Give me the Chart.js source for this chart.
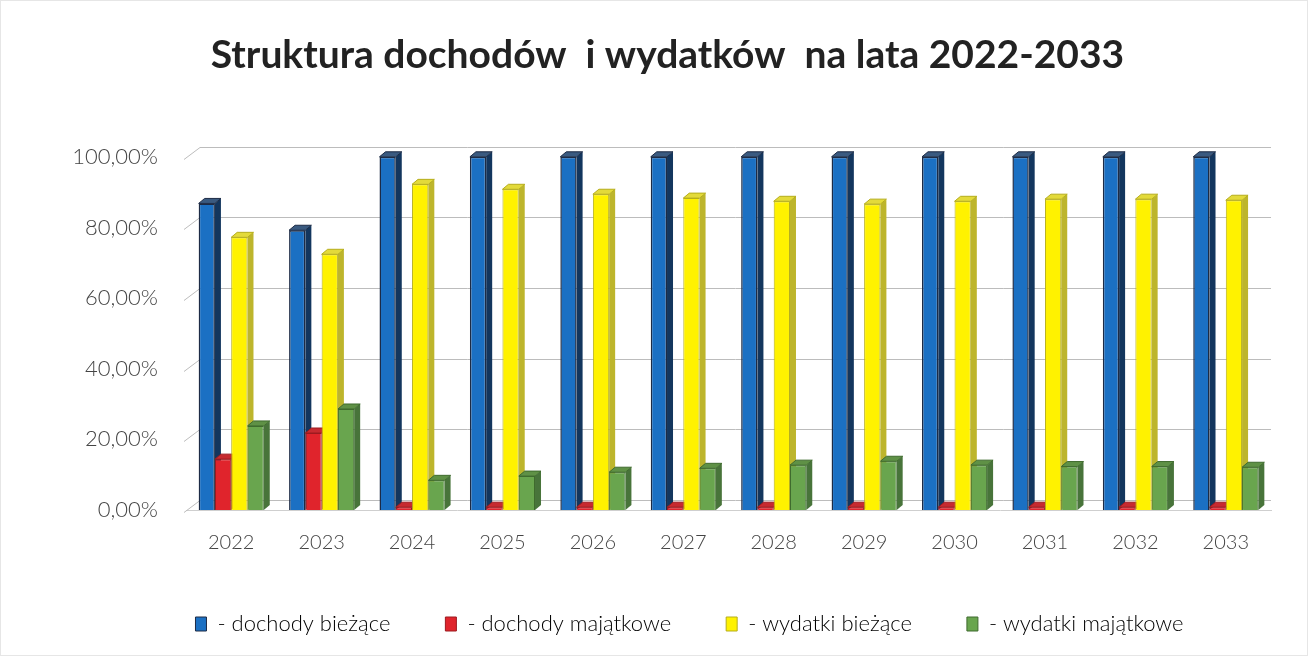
<!DOCTYPE html>
<html lang="pl">
<head>
<meta charset="utf-8">
<title>Struktura dochodów i wydatków</title>
<script src="https://cdn.jsdelivr.net/npm/chart.js@4.4.1/dist/chart.umd.min.js"></script>
<style>
    html, body { margin: 0; padding: 0; background: #fff; }
    #wrap { width: 1308px; height: 656px; box-sizing: border-box; border: 1px solid #e6e6e6; }
</style>
</head>
<body>
<div id="wrap"><canvas id="structChart" width="1306" height="654"></canvas></div>
<script>
// Lata
const years = ['2022', '2023', '2024', '2025', '2026', '2027', '2028', '2029', '2030', '2031', '2032', '2033'];

// Udziały w %
const dochodyBiezace   = [86.8, 79.2, 100, 100, 100, 100, 100, 100, 100, 100, 100, 100];
const dochodyMajatkowe = [14.4, 21.8, 0.8, 0.8, 0.8, 0.8, 0.8, 0.8, 0.8, 0.8, 0.8, 0.8];
const wydatkiBiezace   = [77.2, 72.4, 92.2, 90.8, 89.4, 88.3, 87.4, 86.6, 87.4, 88.0, 88.0, 87.7];
const wydatkiMajatkowe = [23.8, 28.6, 8.4, 9.6, 10.7, 11.8, 12.7, 13.8, 12.7, 12.3, 12.3, 12.1];

const seriesLabels = ['- dochody bieżące', '- dochody majątkowe', '- wydatki bieżące', '- wydatki majątkowe'];

/**
 * Siatka na tylnej ścianie (efekt 3D) - pozycje z osi Y
 */
const backGrid = {
    id: 'backGrid',
    beforeDatasetsDraw(chart) {
        const ctx = chart.ctx;
        const y = chart.scales.y;
        const area = chart.chartArea;
        const depthX = 16, depthY = 12;
        ctx.save();
        ctx.strokeStyle = '#bcbcbc';
        ctx.lineWidth = 1;
        y.ticks.forEach(t => {
            const py = Math.round(y.getPixelForValue(t.value)) + 0.5;
            ctx.beginPath();
            ctx.moveTo(area.left - 2, py + 2);
            ctx.lineTo(area.left - 2 + depthX, py + 2 - depthY);
            ctx.lineTo(area.right, py + 2 - depthY);
            ctx.stroke();
        });
        ctx.restore();
    }
};

/**
 * Pseudo 3D - bok i wierzch słupka rysowane z pozycji elementów Chart.js
 */
const bars3d = {
    id: 'bars3d',
    beforeDatasetsDraw(chart) {
        const ctx = chart.ctx;
        const dx = 6, dy = 5;
        chart.data.datasets.forEach((ds, i) => {
            const meta = chart.getDatasetMeta(i);
            meta.data.forEach(bar => {
                const half = bar.width / 2;
                const left = bar.x - half, right = bar.x + half;
                ctx.save();
                // bok
                ctx.beginPath();
                ctx.moveTo(right, bar.y);
                ctx.lineTo(right + dx, bar.y - dy);
                ctx.lineTo(right + dx, bar.base - dy);
                ctx.lineTo(right, bar.base);
                ctx.closePath();
                ctx.fillStyle = ds.sideColor;
                ctx.fill();
                // wierzch
                ctx.beginPath();
                ctx.moveTo(left, bar.y);
                ctx.lineTo(left + dx, bar.y - dy);
                ctx.lineTo(right + dx, bar.y - dy);
                ctx.lineTo(right, bar.y);
                ctx.closePath();
                ctx.fillStyle = ds.topColor;
                ctx.fill();
                ctx.strokeStyle = ds.borderColor;
                ctx.lineWidth = 1;
                ctx.stroke();
                ctx.restore();
            });
        });
    }
};

// Legenda w oryginale jest lekko przesunięta w prawo
const shiftLegend = {
    id: 'shiftLegend',
    afterLayout(chart) {
        if (!chart.legend) return;
        chart.legend.left += 22;
        chart.legend.right += 22;
    }
};

const ctx = document.getElementById('structChart');

new Chart(ctx, {
    type: 'bar',
    data: {
        labels: years,
        datasets: [
            {
                label: seriesLabels[0],
                data: dochodyBiezace,
                backgroundColor: '#1b70c3',
                borderColor: '#1d2b45',
                sideColor: '#13365e',
                topColor: '#3a5a80',
                borderWidth: 1.5
            },
            {
                label: seriesLabels[1],
                data: dochodyMajatkowe,
                backgroundColor: '#e0242c',
                borderColor: '#9c1a1f',
                sideColor: '#a51c22',
                topColor: '#c72a30',
                borderWidth: 1
            },
            {
                label: seriesLabels[2],
                data: wydatkiBiezace,
                backgroundColor: '#fff200',
                borderColor: '#b5ad1c',
                sideColor: '#bdb52c',
                topColor: '#e3da3a',
                borderWidth: 1
            },
            {
                label: seriesLabels[3],
                data: wydatkiMajatkowe,
                backgroundColor: '#69a54e',
                borderColor: '#3f6b2e',
                sideColor: '#48743a',
                topColor: '#5f9146',
                borderWidth: 1
            }
        ]
    },
    options: {
        responsive: false,
        animation: false,
        layout: {
            padding: { top: 31, left: 63, right: 36, bottom: 10 }
        },
        datasets: {
            bar: {
                categoryPercentage: 0.72,
                barPercentage: 1.0
            }
        },
        plugins: {
            title: {
                display: true,
                text: 'Struktura dochodów  i wydatków  na lata 2022-2033',
                color: '#222',
                font: { family: 'Lato', size: 39, weight: 'bold' },
                padding: { top: 0, bottom: 78 }
            },
            legend: {
                display: true,
                position: 'bottom',
                labels: {
                    color: '#333',
                    boxWidth: 11,
                    boxHeight: 14,
                    padding: 55,
                    font: { family: 'Lato', size: 22, weight: 300 },
                    generateLabels(chart) {
                        return chart.data.datasets.map((ds, i) => ({
                            text: ds.label,
                            fillStyle: ds.backgroundColor,
                            strokeStyle: ds.borderColor,
                            lineWidth: 1,
                            datasetIndex: i
                        }));
                    }
                }
            },
            tooltip: { enabled: false }
        },
        scales: {
            x: {
                grid: { display: false },
                border: { display: true, color: '#cfcfcf' },
                ticks: {
                    color: '#444',
                    padding: 13,
                    font: { family: 'Lato', size: 20, weight: 300 }
                },
                afterFit(scale) {
                    scale.height -= 10;
                }
            },
            y: {
                min: 0,
                max: 100,
                border: { display: false },
                grid: { display: false },
                ticks: {
                    stepSize: 20,
                    color: '#444',
                    padding: 20,
                    font: { family: 'Lato', size: 22, weight: 300 },
                    callback: v => v.toFixed(2).replace('.', ',') + '%'
                },
                afterFit(scale) {
                    scale.width = 122;
                }
            }
        }
    },
    plugins: [backGrid, bars3d, shiftLegend]
});
</script>
</body>
</html>
